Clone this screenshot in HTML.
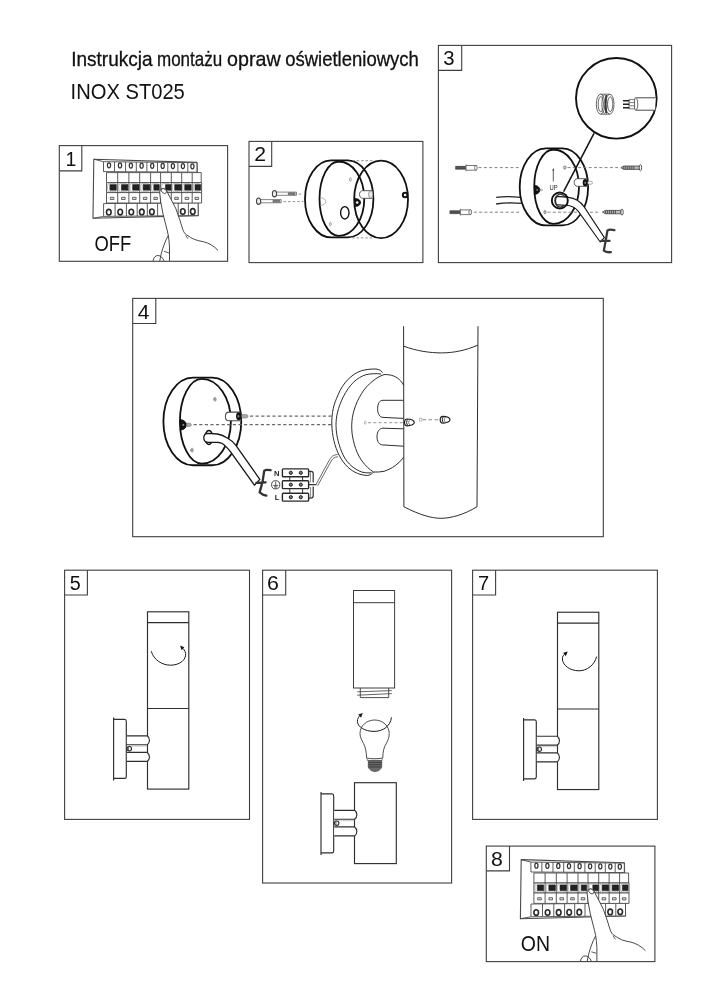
<!DOCTYPE html>
<html lang="pl"><head><meta charset="utf-8"><title>Instrukcja montażu opraw oświetleniowych INOX ST025</title>
<style>
html,body{margin:0;padding:0;background:#fff}
body{width:719px;height:1000px;overflow:hidden;font-family:"Liberation Sans", sans-serif}
svg{display:block}
svg{will-change:transform;transform:translateZ(0)}
</style></head><body>
<svg width="719" height="1000" viewBox="0 0 719 1000" font-family='"Liberation Sans", sans-serif'>
<rect width="719" height="1000" fill="#fff"/>
<g transform="translate(0 0)" stroke="#4a4a4a" stroke-width="0.9" fill="none" stroke-linejoin="round"><path d="M93.8 159.2L197 162.4L198.2 215.6L93.0 218.3Z" fill="#fff" stroke-width="1.1"/><path d="M93.8 159.2L103.5 161.7M93.0 218.3L103.6 216.4"/><path d="M103.5 161.7L196.9 162.7L196.9 172.2L103.5 171.6Z" fill="#fff"/><path d="M114.5 161.8V171.7"/><path d="M125.6 161.9V171.8"/><path d="M136.3 162.0V171.8"/><path d="M146.9 162.1V171.9"/><path d="M157.5 162.2V171.9"/><path d="M167.8 162.3V172.0"/><path d="M177.9 162.4V172.1"/><path d="M187.8 162.5V172.1"/><ellipse cx="109.0" cy="165.3" rx="1.6" ry="2.5" stroke="#333" stroke-width="1.25"/><ellipse cx="120.0" cy="165.4" rx="1.6" ry="2.5" stroke="#333" stroke-width="1.25"/><ellipse cx="130.9" cy="165.5" rx="1.6" ry="2.5" stroke="#333" stroke-width="1.25"/><ellipse cx="141.6" cy="165.7" rx="1.6" ry="2.5" stroke="#333" stroke-width="1.25"/><ellipse cx="152.2" cy="165.8" rx="1.6" ry="2.5" stroke="#333" stroke-width="1.25"/><ellipse cx="162.7" cy="165.9" rx="1.6" ry="2.5" stroke="#333" stroke-width="1.25"/><ellipse cx="172.9" cy="166.0" rx="1.6" ry="2.5" stroke="#333" stroke-width="1.25"/><ellipse cx="182.9" cy="166.1" rx="1.6" ry="2.5" stroke="#333" stroke-width="1.25"/><ellipse cx="192.4" cy="166.3" rx="1.6" ry="2.5" stroke="#333" stroke-width="1.25"/><path d="M103.6 203.6L198.1 202.8L198.1 215.5L103.6 216.4Z" fill="#fff"/><path d="M115.1 203.5V216.3"/><path d="M126.4 203.4V216.2"/><path d="M137.2 203.3V216.1"/><path d="M147.3 203.2V216.0"/><path d="M157.6 203.1V215.9"/><path d="M168.0 203.1V215.8"/><path d="M178.2 203.0V215.7"/><path d="M188.4 202.9V215.6"/><ellipse cx="108.8" cy="212.2" rx="2.3" ry="2.8" stroke="#2a2a2a" stroke-width="1.6"/><ellipse cx="120.2" cy="212.1" rx="2.3" ry="2.8" stroke="#2a2a2a" stroke-width="1.6"/><ellipse cx="131.3" cy="212.0" rx="2.3" ry="2.8" stroke="#2a2a2a" stroke-width="1.6"/><ellipse cx="141.8" cy="211.9" rx="2.3" ry="2.8" stroke="#2a2a2a" stroke-width="1.6"/><ellipse cx="151.9" cy="211.8" rx="2.3" ry="2.8" stroke="#2a2a2a" stroke-width="1.6"/><ellipse cx="172.6" cy="211.6" rx="2.3" ry="2.8" stroke="#2a2a2a" stroke-width="1.6"/><ellipse cx="182.8" cy="211.5" rx="2.3" ry="2.8" stroke="#2a2a2a" stroke-width="1.6"/><ellipse cx="192.8" cy="211.4" rx="2.3" ry="2.8" stroke="#2a2a2a" stroke-width="1.6"/><path d="M106.5 172.6H201.2V182.6H106.5Z" fill="#fff"/><path d="M106.5 182.6H201.6V192.6H106.5Z" fill="#fff"/><path d="M106.5 192.6H201.6V203H106.5Z" fill="#fff"/><path d="M117.7 172.6V203"/><path d="M128.9 172.6V203"/><path d="M139.7 172.6V203"/><path d="M150.6 172.6V203"/><path d="M160.6 172.6V203"/><path d="M171.3 172.6V203"/><path d="M181.7 172.6V203"/><path d="M192.2 172.6V203"/><rect x="107.6" y="183.6" width="9.0" height="8.0" rx="1.8" stroke="#8a8a8a" stroke-width="0.6"/><rect x="109.9" y="184.6" width="6.3" height="5.6" fill="#222" stroke="#222" stroke-width="0.6"/><rect x="118.8" y="183.6" width="9.0" height="8.0" rx="1.8" stroke="#8a8a8a" stroke-width="0.6"/><rect x="121.4" y="184.6" width="6.5" height="5.6" fill="#222" stroke="#222" stroke-width="0.6"/><rect x="130.0" y="183.6" width="8.6" height="8.0" rx="1.8" stroke="#8a8a8a" stroke-width="0.6"/><rect x="132.6" y="184.6" width="6.4" height="5.6" fill="#222" stroke="#222" stroke-width="0.6"/><rect x="140.8" y="183.6" width="8.7" height="8.0" rx="1.8" stroke="#8a8a8a" stroke-width="0.6"/><rect x="143.1" y="184.6" width="6.7" height="5.6" fill="#222" stroke="#222" stroke-width="0.6"/><rect x="151.7" y="183.6" width="7.8" height="8.0" rx="1.8" stroke="#8a8a8a" stroke-width="0.6"/><rect x="153.8" y="184.6" width="5.4" height="5.6" fill="#222" stroke="#222" stroke-width="0.6"/><rect x="161.7" y="183.6" width="8.5" height="8.0" rx="1.8" stroke="#8a8a8a" stroke-width="0.6"/><rect x="165.4" y="184.6" width="5.6" height="5.6" fill="#222" stroke="#222" stroke-width="0.6"/><rect x="172.4" y="183.6" width="8.2" height="8.0" rx="1.8" stroke="#8a8a8a" stroke-width="0.6"/><rect x="174.7" y="184.6" width="6.6" height="5.6" fill="#222" stroke="#222" stroke-width="0.6"/><rect x="182.8" y="183.6" width="8.3" height="8.0" rx="1.8" stroke="#8a8a8a" stroke-width="0.6"/><rect x="184.7" y="184.6" width="6.4" height="5.6" fill="#222" stroke="#222" stroke-width="0.6"/><rect x="193.3" y="183.6" width="7.0" height="8.0" rx="1.8" stroke="#8a8a8a" stroke-width="0.6"/><rect x="195.0" y="184.6" width="5.6" height="5.6" fill="#222" stroke="#222" stroke-width="0.6"/><rect x="110.3" y="197.3" width="3.6" height="2.2" stroke-width="0.8" fill="#ddd"/><rect x="121.5" y="197.3" width="3.6" height="2.2" stroke-width="0.8" fill="#ddd"/><rect x="132.5" y="197.3" width="3.6" height="2.2" stroke-width="0.8" fill="#ddd"/><rect x="143.3" y="197.3" width="3.6" height="2.2" stroke-width="0.8" fill="#ddd"/><rect x="153.8" y="197.3" width="3.6" height="2.2" stroke-width="0.8" fill="#ddd"/><rect x="164.1" y="197.3" width="3.6" height="2.2" stroke-width="0.8" fill="#ddd"/><rect x="174.7" y="197.3" width="3.6" height="2.2" stroke-width="0.8" fill="#ddd"/><rect x="185.1" y="197.3" width="3.6" height="2.2" stroke-width="0.8" fill="#ddd"/><rect x="195.0" y="197.3" width="3.6" height="2.2" stroke-width="0.8" fill="#ddd"/><path d="M169.5 260.9L169.5 247.1C169.3 243 168.9 239 168.2 234.9C167.5 231.5 166.8 228.6 166 225.7L162.9 213.4L160.6 201.2L159.7 192.4C159.6 190.4 160.6 189.0 162.5 188.6C164.4 188.4 165.9 189.4 166.9 191.4L171.3 199.7L175.9 208.8L179.7 219.6L182.8 229.5C183.8 232.2 184.9 233.8 186.6 234.9C189 236.6 191.6 238.2 194.3 239.4C197.3 240.6 200.4 241.1 203.4 241.7C206.2 242.4 208.7 243.4 211.1 244.8C213.8 246.4 216.1 248.2 218 250.4L218 260.9Z" fill="#fff" stroke="none"/><path d="M169.5 260.9L169.5 247.1C169.3 243 168.9 239 168.2 234.9C167.5 231.5 166.8 228.6 166 225.7L162.9 213.4L160.6 201.2L159.7 192.4C159.6 190.4 160.6 189.0 162.5 188.6C164.4 188.4 165.9 189.4 166.9 191.4L171.3 199.7L175.9 208.8L179.7 219.6L182.8 229.5C183.8 232.2 184.9 233.8 186.6 234.9C189 236.6 191.6 238.2 194.3 239.4C197.3 240.6 200.4 241.1 203.4 241.7C206.2 242.4 208.7 243.4 211.1 244.8C213.8 246.4 216.1 248.2 218 250.4" stroke="#333" stroke-width="0.9"/><ellipse cx="163.9" cy="191.0" rx="2.9" ry="2.1" transform="rotate(38 163.9 191.0)" fill="#fff" stroke="#333" stroke-width="0.8"/><path d="M185.6 235.4L188.0 238.8" stroke="#333" stroke-width="0.8"/><path d="M168.2 235.6C166.6 238.4 165.4 241.2 164.4 244C163.2 247 162.2 250.1 161.4 253.2C160.7 255.8 160.2 258.3 159.8 260.9" stroke="#333" stroke-width="0.9"/><path d="M164.0 251.4L169.0 252.9" stroke="#333" stroke-width="0.8"/><path d="M153.0 260.9C153.6 257.6 155.4 255.5 157.8 255.5C160.6 255.5 162.8 257.8 164.0 260.9" stroke="#333" stroke-width="0.9"/></g>
<g transform="translate(427.4 700.4)" stroke="#4a4a4a" stroke-width="0.9" fill="none" stroke-linejoin="round"><path d="M93.8 159.2L197 162.4L198.2 215.6L93.0 218.3Z" fill="#fff" stroke-width="1.1"/><path d="M93.8 159.2L103.5 161.7M93.0 218.3L103.6 216.4"/><path d="M103.5 161.7L196.9 162.7L196.9 172.2L103.5 171.6Z" fill="#fff"/><path d="M114.5 161.8V171.7"/><path d="M125.6 161.9V171.8"/><path d="M136.3 162.0V171.8"/><path d="M146.9 162.1V171.9"/><path d="M157.5 162.2V171.9"/><path d="M167.8 162.3V172.0"/><path d="M177.9 162.4V172.1"/><path d="M187.8 162.5V172.1"/><ellipse cx="109.0" cy="165.3" rx="1.6" ry="2.5" stroke="#333" stroke-width="1.25"/><ellipse cx="120.0" cy="165.4" rx="1.6" ry="2.5" stroke="#333" stroke-width="1.25"/><ellipse cx="130.9" cy="165.5" rx="1.6" ry="2.5" stroke="#333" stroke-width="1.25"/><ellipse cx="141.6" cy="165.7" rx="1.6" ry="2.5" stroke="#333" stroke-width="1.25"/><ellipse cx="152.2" cy="165.8" rx="1.6" ry="2.5" stroke="#333" stroke-width="1.25"/><ellipse cx="162.7" cy="165.9" rx="1.6" ry="2.5" stroke="#333" stroke-width="1.25"/><ellipse cx="172.9" cy="166.0" rx="1.6" ry="2.5" stroke="#333" stroke-width="1.25"/><ellipse cx="182.9" cy="166.1" rx="1.6" ry="2.5" stroke="#333" stroke-width="1.25"/><ellipse cx="192.4" cy="166.3" rx="1.6" ry="2.5" stroke="#333" stroke-width="1.25"/><path d="M103.6 203.6L198.1 202.8L198.1 215.5L103.6 216.4Z" fill="#fff"/><path d="M115.1 203.5V216.3"/><path d="M126.4 203.4V216.2"/><path d="M137.2 203.3V216.1"/><path d="M147.3 203.2V216.0"/><path d="M157.6 203.1V215.9"/><path d="M168.0 203.1V215.8"/><path d="M178.2 203.0V215.7"/><path d="M188.4 202.9V215.6"/><ellipse cx="108.8" cy="212.2" rx="2.3" ry="2.8" stroke="#2a2a2a" stroke-width="1.6"/><ellipse cx="120.2" cy="212.1" rx="2.3" ry="2.8" stroke="#2a2a2a" stroke-width="1.6"/><ellipse cx="131.3" cy="212.0" rx="2.3" ry="2.8" stroke="#2a2a2a" stroke-width="1.6"/><ellipse cx="141.8" cy="211.9" rx="2.3" ry="2.8" stroke="#2a2a2a" stroke-width="1.6"/><ellipse cx="151.9" cy="211.8" rx="2.3" ry="2.8" stroke="#2a2a2a" stroke-width="1.6"/><ellipse cx="172.6" cy="211.6" rx="2.3" ry="2.8" stroke="#2a2a2a" stroke-width="1.6"/><ellipse cx="182.8" cy="211.5" rx="2.3" ry="2.8" stroke="#2a2a2a" stroke-width="1.6"/><ellipse cx="192.8" cy="211.4" rx="2.3" ry="2.8" stroke="#2a2a2a" stroke-width="1.6"/><path d="M106.5 172.6H201.2V182.6H106.5Z" fill="#fff"/><path d="M106.5 182.6H201.6V192.6H106.5Z" fill="#fff"/><path d="M106.5 192.6H201.6V203H106.5Z" fill="#fff"/><path d="M117.7 172.6V203"/><path d="M128.9 172.6V203"/><path d="M139.7 172.6V203"/><path d="M150.6 172.6V203"/><path d="M160.6 172.6V203"/><path d="M171.3 172.6V203"/><path d="M181.7 172.6V203"/><path d="M192.2 172.6V203"/><rect x="107.6" y="183.6" width="9.0" height="8.0" rx="1.8" stroke="#8a8a8a" stroke-width="0.6"/><rect x="109.9" y="184.6" width="6.3" height="5.6" fill="#222" stroke="#222" stroke-width="0.6"/><rect x="118.8" y="183.6" width="9.0" height="8.0" rx="1.8" stroke="#8a8a8a" stroke-width="0.6"/><rect x="121.4" y="184.6" width="6.5" height="5.6" fill="#222" stroke="#222" stroke-width="0.6"/><rect x="130.0" y="183.6" width="8.6" height="8.0" rx="1.8" stroke="#8a8a8a" stroke-width="0.6"/><rect x="132.6" y="184.6" width="6.4" height="5.6" fill="#222" stroke="#222" stroke-width="0.6"/><rect x="140.8" y="183.6" width="8.7" height="8.0" rx="1.8" stroke="#8a8a8a" stroke-width="0.6"/><rect x="143.1" y="184.6" width="6.7" height="5.6" fill="#222" stroke="#222" stroke-width="0.6"/><rect x="151.7" y="183.6" width="7.8" height="8.0" rx="1.8" stroke="#8a8a8a" stroke-width="0.6"/><rect x="153.8" y="184.6" width="5.4" height="5.6" fill="#222" stroke="#222" stroke-width="0.6"/><rect x="161.7" y="183.6" width="8.5" height="8.0" rx="1.8" stroke="#8a8a8a" stroke-width="0.6"/><rect x="165.4" y="184.6" width="5.6" height="5.6" fill="#222" stroke="#222" stroke-width="0.6"/><rect x="172.4" y="183.6" width="8.2" height="8.0" rx="1.8" stroke="#8a8a8a" stroke-width="0.6"/><rect x="174.7" y="184.6" width="6.6" height="5.6" fill="#222" stroke="#222" stroke-width="0.6"/><rect x="182.8" y="183.6" width="8.3" height="8.0" rx="1.8" stroke="#8a8a8a" stroke-width="0.6"/><rect x="184.7" y="184.6" width="6.4" height="5.6" fill="#222" stroke="#222" stroke-width="0.6"/><rect x="193.3" y="183.6" width="7.0" height="8.0" rx="1.8" stroke="#8a8a8a" stroke-width="0.6"/><rect x="195.0" y="184.6" width="5.6" height="5.6" fill="#222" stroke="#222" stroke-width="0.6"/><rect x="110.3" y="197.3" width="3.6" height="2.2" stroke-width="0.8" fill="#ddd"/><rect x="121.5" y="197.3" width="3.6" height="2.2" stroke-width="0.8" fill="#ddd"/><rect x="132.5" y="197.3" width="3.6" height="2.2" stroke-width="0.8" fill="#ddd"/><rect x="143.3" y="197.3" width="3.6" height="2.2" stroke-width="0.8" fill="#ddd"/><rect x="153.8" y="197.3" width="3.6" height="2.2" stroke-width="0.8" fill="#ddd"/><rect x="164.1" y="197.3" width="3.6" height="2.2" stroke-width="0.8" fill="#ddd"/><rect x="174.7" y="197.3" width="3.6" height="2.2" stroke-width="0.8" fill="#ddd"/><rect x="185.1" y="197.3" width="3.6" height="2.2" stroke-width="0.8" fill="#ddd"/><rect x="195.0" y="197.3" width="3.6" height="2.2" stroke-width="0.8" fill="#ddd"/><path d="M169.5 260.9L169.5 247.1C169.3 243 168.9 239 168.2 234.9C167.5 231.5 166.8 228.6 166 225.7L162.9 213.4L160.6 201.2L159.7 192.4C159.6 190.4 160.6 189.0 162.5 188.6C164.4 188.4 165.9 189.4 166.9 191.4L171.3 199.7L175.9 208.8L179.7 219.6L182.8 229.5C183.8 232.2 184.9 233.8 186.6 234.9C189 236.6 191.6 238.2 194.3 239.4C197.3 240.6 200.4 241.1 203.4 241.7C206.2 242.4 208.7 243.4 211.1 244.8C213.8 246.4 216.1 248.2 218 250.4L218 260.9Z" fill="#fff" stroke="none"/><path d="M169.5 260.9L169.5 247.1C169.3 243 168.9 239 168.2 234.9C167.5 231.5 166.8 228.6 166 225.7L162.9 213.4L160.6 201.2L159.7 192.4C159.6 190.4 160.6 189.0 162.5 188.6C164.4 188.4 165.9 189.4 166.9 191.4L171.3 199.7L175.9 208.8L179.7 219.6L182.8 229.5C183.8 232.2 184.9 233.8 186.6 234.9C189 236.6 191.6 238.2 194.3 239.4C197.3 240.6 200.4 241.1 203.4 241.7C206.2 242.4 208.7 243.4 211.1 244.8C213.8 246.4 216.1 248.2 218 250.4" stroke="#333" stroke-width="0.9"/><ellipse cx="163.9" cy="191.0" rx="2.9" ry="2.1" transform="rotate(38 163.9 191.0)" fill="#fff" stroke="#333" stroke-width="0.8"/><path d="M185.6 235.4L188.0 238.8" stroke="#333" stroke-width="0.8"/><path d="M168.2 235.6C166.6 238.4 165.4 241.2 164.4 244C163.2 247 162.2 250.1 161.4 253.2C160.7 255.8 160.2 258.3 159.8 260.9" stroke="#333" stroke-width="0.9"/><path d="M164.0 251.4L169.0 252.9" stroke="#333" stroke-width="0.8"/><path d="M153.0 260.9C153.6 257.6 155.4 255.5 157.8 255.5C160.6 255.5 162.8 257.8 164.0 260.9" stroke="#333" stroke-width="0.9"/></g>
<g transform="" fill="none" stroke="#111" stroke-width="1.8"><path d="M331.1 160.4A26.1 38.5 0 0 0 331.1 237.4L347.8 237.4A25.6 38.5 0 0 0 347.8 160.4Z" fill="#fff"/><path d="M338.8 161.5A19.3 37.2 0 0 0 338.8 235.9A25.5 37.2 0 0 0 338.8 161.5Z"/><ellipse cx="350.4" cy="179.5" rx="0.9" ry="1.7" stroke="#666" stroke-width="0.6"/><ellipse cx="330.3" cy="224.1" rx="0.9" ry="1.7" stroke="#666" stroke-width="0.6"/><ellipse cx="344.8" cy="212.8" rx="4.2" ry="6.2" stroke-width="1.4"/><path d="M320.2 197.6C323.6 197.6 325.6 199.6 325.6 201.6C325.6 203.6 323.6 205.6 320.4 205.6" stroke="#999" stroke-width="0.7"/><path d="M372.4 190.7H362.6C360.6 190.7 359.5 192.6 359.5 194.5C359.5 196.4 360.6 198.3 362.6 198.3H372.6" fill="#fff" stroke="#4a4a4a" stroke-width="0.9"/></g>
<ellipse cx="370.7" cy="194.5" rx="2.1" ry="3.6" fill="#e8e8e8" stroke="#777" stroke-width="0.7"/>
<path d="M352.3 160.7H373M352 237.9H373" stroke="#888" stroke-width="0.9" stroke-dasharray="2.6 1.8" fill="none"/>
<ellipse cx="381.1" cy="199.4" rx="26.9" ry="38.7" fill="none" stroke="#111" stroke-width="1.8"/>
<path d="M355.0 198.6C358.6 198.6 360.6 200.4 360.6 202.5C360.6 204.6 358.6 206.5 355.2 206.5Z" fill="#111" stroke="#111" stroke-width="0.8"/>
<circle cx="357.2" cy="202.5" r="1.25" fill="#fff"/>
<circle cx="405.1" cy="195.1" r="2.25" fill="#fff" stroke="#111" stroke-width="2.0"/>
<g fill="none" stroke="#666" stroke-width="0.8"><path d="M275.5 192.1H296.5V195.29999999999998H275.5" fill="#fff"/><ellipse cx="274.5" cy="193.7" rx="2.1" ry="3.2" fill="#eee" stroke="#444" stroke-width="1.1"/><rect x="287.9" y="192.2" width="7.6" height="3" fill="#777" stroke="none"/></g>
<g fill="none" stroke="#666" stroke-width="0.8"><path d="M259.59999999999997 199.6H281.2V202.79999999999998H259.59999999999997" fill="#fff"/><ellipse cx="258.59999999999997" cy="201.2" rx="2.1" ry="3.2" fill="#eee" stroke="#444" stroke-width="1.1"/><rect x="272.59999999999997" y="199.7" width="7.6" height="3" fill="#777" stroke="none"/></g>
<path d="M298.6 194.1H302.6M283.4 201.6H303.4" stroke="#777" stroke-width="0.8" stroke-dasharray="2.6 2" fill="none"/>
<path d="M496.2 197.3C504 196.3 512 196.4 520.4 197.3M496.2 204.0C504 202.8 512 202.7 521.4 203.3" stroke="#222" stroke-width="1.3" fill="none"/>
<path d="M478.6 167.6H521" stroke="#777" stroke-width="0.9" stroke-dasharray="3 2.3" fill="none"/>
<path d="M473.8 212.2H520.5" stroke="#777" stroke-width="0.9" stroke-dasharray="3 2.3" fill="none"/>
<g transform="translate(214.7 -12.0)" fill="none" stroke="#111" stroke-width="1.8"><path d="M331.1 160.4A26.1 38.5 0 0 0 331.1 237.4L347.8 237.4A25.6 38.5 0 0 0 347.8 160.4Z" fill="#fff"/><path d="M338.8 161.5A19.3 37.2 0 0 0 338.8 235.9A25.5 37.2 0 0 0 338.8 161.5Z"/><ellipse cx="350.4" cy="179.5" rx="0.9" ry="1.7" stroke="#666" stroke-width="0.6"/><ellipse cx="330.3" cy="224.1" rx="0.9" ry="1.7" stroke="#666" stroke-width="0.6"/><path d="M319.8 197.2C323.2 197.6 325.2 199.6 325.2 201.9C325.2 204.2 323.2 206.1 320.0 206.5Z" fill="#111" stroke="#111" stroke-width="0.8"/><circle cx="322.5" cy="201.9" r="0.9" fill="#888" stroke="none"/><ellipse cx="326.6" cy="201.9" rx="1.1" ry="0.9" stroke="#777" stroke-width="0.6"/><path d="M372.4 190.7H362.6C360.6 190.7 359.5 192.6 359.5 194.5C359.5 196.4 360.6 198.3 362.6 198.3H372.6" fill="#fff" stroke="#4a4a4a" stroke-width="0.9"/></g>
<path d="M567.5 167.6H618" stroke="#777" stroke-width="0.9" stroke-dasharray="3 2.3" fill="none"/>
<path d="M547.5 212.2H600.5" stroke="#777" stroke-width="0.9" stroke-dasharray="3 2.3" fill="none"/>
<ellipse cx="564.4" cy="167.6" rx="1.2" ry="1.5" fill="none" stroke="#777" stroke-width="0.6"/>
<ellipse cx="544.9" cy="212.2" rx="1.0" ry="1.6" fill="none" stroke="#777" stroke-width="0.6"/>
<path d="M553.3 169.6V181.4" stroke="#333" stroke-width="0.8" fill="none"/>
<path d="M553.3 168.2L554.3 170.6H552.3Z" fill="#333"/>
<text x="553.5" y="190.2" font-size="7.6" text-anchor="middle" fill="#222" textLength="8.2" lengthAdjust="spacingAndGlyphs">UP</text>
<ellipse cx="585.3" cy="182.7" rx="2.6" ry="3.6" fill="#111"/>
<ellipse cx="585.2" cy="182.7" rx="0.9" ry="1.2" fill="#777"/>
<rect x="587.8" y="181.3" width="4.6" height="2.9" rx="1.3" fill="#fff" stroke="#888" stroke-width="0.7"/>
<path d="M594.0 133.3L563.6 191.6" stroke="#111" stroke-width="1.5" fill="none"/>
<circle cx="616.3" cy="98.3" r="40.3" fill="none" stroke="#111" stroke-width="1.9"/>
<g fill="none" stroke="#444" stroke-width="0.8"><path d="M600.6 94.2H609.6M600.6 114.2H609.6"/><ellipse cx="600.6" cy="104.2" rx="4.3" ry="10"/><ellipse cx="600.8" cy="104.2" rx="2.6" ry="7.6"/><ellipse cx="604.4" cy="104.2" rx="2.6" ry="9.2" stroke-width="0.7"/><ellipse cx="609.8" cy="104.2" rx="4.2" ry="10"/><ellipse cx="610.2" cy="104.2" rx="2.6" ry="7.4"/><path d="M606.6 95.0C605.2 98 605.2 110.4 606.6 113.4" stroke-width="1.6" stroke="#333"/></g>
<path d="M655.6 97.8H635.6C633.6 97.8 633.6 110.2 635.6 110.2H655.2" fill="#fff" stroke="#333" stroke-width="0.9"/>
<path d="M636.6 98.4C638.2 101 638.2 107 636.6 109.8" fill="none" stroke="#444" stroke-width="0.8"/>
<path d="M629 99.6H634.6V108.8H629Z" fill="#fff" stroke="#444" stroke-width="0.7"/>
<path d="M629 102.6H634.6M629 105.8H634.6" stroke="#444" stroke-width="0.7"/>
<path d="M623 100.7H629.4M623 104.2H629.4M623 107.7H629.4" stroke="#222" stroke-width="1.5" fill="none"/>
<circle cx="559.8" cy="200.5" r="8.0" fill="#fff" stroke="#111" stroke-width="1.9"/>
<ellipse cx="560.2" cy="200.6" rx="5.4" ry="6.4" fill="none" stroke="#222" stroke-width="1.1"/>
<path d="M558.2 196.4C556.4 196.4 555.6 198.6 555.6 200.7C555.6 202.8 556.4 204.9 558.2 204.9L566 205.3C572 205.6 575 207 578.4 211.4L600.2 242.0L604.4 237.6L584.0 206.6C580 201 575 198.2 568.4 197.4Z" fill="#fff" stroke="#1c1c1c" stroke-width="1.1" stroke-linejoin="round"/>
<path d="M565.6 194.9A8 8 0 0 1 567.8 200.5A8 8 0 0 1 566.0 205.6" fill="none" stroke="#111" stroke-width="1.9"/>
<path d="M614.4 230.2C611 229.4 608.6 229.6 607.4 230.6L605.8 240.2L603.8 250.6C605.6 252 608.2 252.4 610.8 252.2M601.4 240.8H609.6" fill="none" stroke="#3a3a3a" stroke-width="2.3" stroke-linecap="round" stroke-linejoin="round"/>
<rect x="455.3" y="165.9" width="11.4" height="3.8" fill="#666"/><path d="M455.3 166.9H466.3M455.3 168.4H466.3" stroke="#333" stroke-width="0.6"/><path d="M465.90000000000003 165.5H476.5V170.20000000000002H465.90000000000003" fill="#fff" stroke="#555" stroke-width="0.8"/><path d="M466.1 164.5V171.10000000000002" stroke="#555" stroke-width="0.8"/><ellipse cx="475.90000000000003" cy="167.8" rx="1.3" ry="2.5" fill="#fff" stroke="#555" stroke-width="0.8"/>
<rect x="449.6" y="210.29999999999998" width="11.4" height="3.8" fill="#666"/><path d="M449.6 211.29999999999998H460.6M449.6 212.79999999999998H460.6" stroke="#333" stroke-width="0.6"/><path d="M460.20000000000005 209.89999999999998H470.8V214.6H460.20000000000005" fill="#fff" stroke="#555" stroke-width="0.8"/><path d="M460.40000000000003 208.89999999999998V215.5" stroke="#555" stroke-width="0.8"/><ellipse cx="470.20000000000005" cy="212.2" rx="1.3" ry="2.5" fill="#fff" stroke="#555" stroke-width="0.8"/>
<path d="M620.8 167.7L623.8 166.0H639.3999999999999V169.39999999999998H623.8Z" fill="#bbb" stroke="#444" stroke-width="0.8"/><path d="M623.8 166.1V169.29999999999998M625.8 166.1V169.29999999999998M627.8 166.1V169.29999999999998M629.8 166.1V169.29999999999998M631.8 166.1V169.29999999999998M633.8 166.1V169.29999999999998" stroke="#333" stroke-width="0.8"/><ellipse cx="640.3999999999999" cy="167.7" rx="1.2" ry="3.1" fill="#fff" stroke="#444" stroke-width="0.9"/>
<path d="M602.4 212.1L605.4 210.4H620.9999999999999V213.79999999999998H605.4Z" fill="#bbb" stroke="#444" stroke-width="0.8"/><path d="M605.4 210.5V213.7M607.4 210.5V213.7M609.4 210.5V213.7M611.4 210.5V213.7M613.4 210.5V213.7M615.4 210.5V213.7" stroke="#333" stroke-width="0.8"/><ellipse cx="621.9999999999999" cy="212.1" rx="1.2" ry="3.1" fill="#fff" stroke="#444" stroke-width="0.9"/>
<g transform="translate(-183.69 195.12) scale(1.138)" fill="none" stroke="#111" stroke-width="1.6"><path d="M331.1 160.4A26.1 38.5 0 0 0 331.1 237.4L347.8 237.4A25.6 38.5 0 0 0 347.8 160.4Z" fill="#fff"/><path d="M338.8 161.5A19.3 37.2 0 0 0 338.8 235.9A25.5 37.2 0 0 0 338.8 161.5Z"/><ellipse cx="350.4" cy="179.5" rx="0.9" ry="1.7" stroke="#666" stroke-width="0.6"/><ellipse cx="330.3" cy="224.1" rx="0.9" ry="1.7" stroke="#666" stroke-width="0.6"/><path d="M319.8 197.2C323.2 197.6 325.2 199.6 325.2 201.9C325.2 204.2 323.2 206.1 320.0 206.5Z" fill="#111" stroke="#111" stroke-width="0.8"/><circle cx="322.5" cy="201.9" r="0.9" fill="#888" stroke="none"/><ellipse cx="326.6" cy="201.9" rx="1.1" ry="0.9" stroke="#777" stroke-width="0.6"/><path d="M372.4 190.7H362.6C360.6 190.7 359.5 192.6 359.5 194.5C359.5 196.4 360.6 198.3 362.6 198.3H372.6" fill="#fff" stroke="#4a4a4a" stroke-width="0.9"/></g>
<circle cx="214.7" cy="399.1" r="1.5" fill="#999"/><circle cx="191.6" cy="450.3" r="1.5" fill="#999"/>
<ellipse cx="238.8" cy="416.2" rx="2.7" ry="3.9" fill="#111"/>
<ellipse cx="238.4" cy="416.3" rx="1.0" ry="1.4" fill="#777"/>
<path d="M241.8 414.6H246C247.4 414.6 248 415.4 248 416.3C248 417.2 247.4 418 246 418H241.8Z" fill="#aaa" stroke="#777" stroke-width="0.6"/>
<path d="M186.6 423.2H189.6C190.8 423.2 191.4 424 191.4 424.8C191.4 425.6 190.8 426.4 189.6 426.4H186.6Z" fill="#aaa" stroke="#777" stroke-width="0.6"/>
<path d="M250 416.1H331.6" stroke="#6a6a6a" stroke-width="1.2" stroke-dasharray="3.2 2.4" fill="none"/>
<path d="M193.6 424.6H331.4" stroke="#6a6a6a" stroke-width="1.2" stroke-dasharray="3.2 2.4" fill="none"/>
<ellipse cx="208.9" cy="437.5" rx="3.9" ry="7.0" fill="#fff" stroke="#111" stroke-width="1.4"/>
<path d="M207.8 433.3C205.2 433.3 203.8 435.4 203.8 437.8C203.8 440.2 205.2 442.3 207.8 442.3L217.6 442.3C221 442.4 223.2 443.6 224.8 445.4C227 447.6 229 449.8 230.8 452.2L254.4 485.2L259.8 479.4L235.7 445.1C233.4 442.2 230.6 439.8 227.3 438.0C224.4 436.0 221.2 434.6 217.6 434.0Z" fill="#fff" stroke="#151515" stroke-width="1.3" stroke-linejoin="round"/>
<path d="M270.6 470.2C267.4 469.6 265.2 469.8 264.2 470.8L262.6 481.6L259.6 492.4C261.6 494.2 263.8 495.2 266.4 495.6M256.4 482.8L265.6 482.4" fill="none" stroke="#333" stroke-width="2.3" stroke-linecap="round" stroke-linejoin="round"/>
<path d="M289.8 476H302.6M289.8 480.8V476M302.6 480.8V476M289.8 488.8V493.2M302.6 488.8V493.2" stroke="#333" stroke-width="1" fill="none"/>
<rect x="282.4" y="468.9" width="26.2" height="7.8" rx="0.8" stroke="#2a2a2a" stroke-width="1.4" fill="#fff"/>
<circle cx="290.8" cy="472.8" r="1.6" fill="#777" stroke="#222" stroke-width="1.0"/>
<circle cx="300.8" cy="472.8" r="1.6" fill="#777" stroke="#222" stroke-width="1.0"/>
<rect x="282.4" y="480.8" width="26.2" height="7.8" rx="0.8" stroke="#2a2a2a" stroke-width="1.4" fill="#fff"/>
<circle cx="290.8" cy="484.7" r="1.6" fill="#777" stroke="#222" stroke-width="1.0"/>
<circle cx="300.8" cy="484.7" r="1.6" fill="#777" stroke="#222" stroke-width="1.0"/>
<rect x="282.4" y="493.3" width="26.2" height="7.8" rx="0.8" stroke="#2a2a2a" stroke-width="1.4" fill="#fff"/>
<circle cx="290.8" cy="497.2" r="1.6" fill="#777" stroke="#222" stroke-width="1.0"/>
<circle cx="300.8" cy="497.2" r="1.6" fill="#777" stroke="#222" stroke-width="1.0"/>
<path d="M308.8 471.4H311.2C312.6 471.4 313.2 472.2 313.2 473.6V482.6M308.8 498.2H310.8C312.4 498.2 313.2 497.2 313.2 495.8V486.6M308.8 484.7H316.4" fill="none" stroke="#333" stroke-width="1.2"/>
<path d="M310.4 471.8V482.4M310.6 487V497.6" stroke="#555" stroke-width="0.7" fill="none"/>
<text x="276.7" y="475.5" font-size="7.6" font-weight="bold" text-anchor="middle" fill="#222">N</text>
<text x="277.1" y="499.9" font-size="7.6" font-weight="bold" text-anchor="middle" fill="#222">L</text>
<circle cx="275.7" cy="484.8" r="4.1" fill="none" stroke="#333" stroke-width="0.9"/>
<path d="M275.7 481.8V485.4M273.2 485.4H278.2M274.0 486.8H277.4M274.9 488H276.5" stroke="#333" stroke-width="0.8" fill="none"/>
<path d="M316.2 484.2L329.6 459.6C331.4 456.4 333.6 454.8 337.6 454.4M317.6 485.8L331.2 461C332.8 458.2 334.6 457 338 456.8" fill="none" stroke="#444" stroke-width="0.8"/>
<path d="M382.6 372.6C380.6 369.6 377.6 368.8 372.9 369.0C368.8 369.2 365.2 369.6 361.7 370.6C356.4 372.4 351.8 375.6 347.8 379.6C343.6 384 340.4 389.2 338.1 394.8C336 399.4 334.2 404 333.2 408.7C332.2 413.6 331.7 418.8 331.8 424C331.9 429.6 332.6 435.2 333.9 440.7C335.2 446 337 451.2 339.5 456C341.8 460.2 344.5 464 347.8 467.1C350.7 469.8 353.9 471.9 357.5 473.4C360.6 474.6 363.9 475.3 367.3 475.5C369.8 475.2 372 474 373.6 472" stroke="#222" stroke-width="0.95" fill="none"/><path d="M381.2 374.0C376 373.4 370.8 373.6 365.9 374.7C361.2 376.2 357 378.8 353.4 382.3C349.4 386.4 346.2 391.2 343.6 396.2C340.9 401.5 338.7 407.1 337.4 412.9C336.4 417 336 421.2 336 425.4C336.1 430.6 336.8 435.7 338.1 440.7C339.4 446.1 341.2 451.2 343.6 456C345.8 460 348.6 463.5 352 466.4C354.9 468.8 358.2 470.7 361.7 472C364.9 472.9 368.2 473.1 371.5 472.7" stroke="#222" stroke-width="0.95" fill="none"/>
<path d="M403.6 385.2C402.8 383.6 401.8 382.2 400.7 380.9C398.7 378.8 396.4 377.1 393.7 376C390.6 374.9 387.3 374.4 384 374.6C380 376 376.2 378.2 372.9 380.9C368.4 384.4 364.6 388.6 361.7 393.4C358.4 398.6 355.8 404.2 354.1 410.1C352.6 415 351.8 420.2 351.7 425.4C351.6 430.6 352.2 435.7 353.4 440.7C354.6 446.1 356.4 451.2 358.9 456C361.1 460.1 363.9 463.9 367.3 467.1C369.2 468.9 371.3 470.6 373.5 472C377 472.2 380.6 472 384 471.3C388 470 391.8 468.2 395.1 465.7C398.4 463.4 401.2 460.6 403.6 457.4" stroke="#222" stroke-width="0.95" fill="none" fill="#fff"/>
<path d="M403.6 400.3H383C379.6 400.3 377.6 403.6 377.6 408.8C377.6 413.8 379.6 417.2 383 417.4L403.6 418.4" stroke="#222" stroke-width="0.95" fill="none"/>
<path d="M403.6 428.8L383 428.2C379.4 428.2 377 431.6 377 436.6C377 441.4 379 444.6 382.4 444.9L403.6 446.2" stroke="#222" stroke-width="0.95" fill="none"/>
<path d="M368 422.7H403.4" stroke="#888" stroke-width="0.9" stroke-dasharray="3 2.3" fill="none"/>
<ellipse cx="365.3" cy="422.7" rx="0.9" ry="1.5" fill="none" stroke="#888" stroke-width="0.6"/>
<path d="M403.6 326.2L403.9 506.8C420 515 431.6 518.3 441 518.3C451 518.3 464 514.6 477.0 506.8L478.0 326.2" stroke="#222" stroke-width="0.95" fill="none" stroke-width="1.0"/>
<path d="M403.7 346.2C417 351 429.4 352.9 441.6 352.9C453.6 352.9 465.6 350.4 477.8 345.2" stroke="#222" stroke-width="0.95" fill="none"/>
<path d="M407.3 419.0C411.3 419.0 414.3 420.6 414.3 422.4C414.3 424.2 411.3 425.8 407.3 425.8C404.9 425.8 404.5 424.0 404.5 422.4C404.5 420.8 404.9 419.0 407.3 419.0Z" fill="#fff" stroke="#1c1c1c" stroke-width="1.2"/><path d="M407.7 419.4C406.3 421.0 406.3 423.8 407.7 425.4" fill="none" stroke="#1c1c1c" stroke-width="1.0"/><path d="M409.9 419.6C408.3 421.2 408.3 423.6 409.9 425.2" fill="none" stroke="#444" stroke-width="0.7"/>
<path d="M443.0 416.3C447.0 416.3 450.0 417.9 450.0 419.7C450.0 421.5 447.0 423.1 443.0 423.1C440.6 423.1 440.2 421.3 440.2 419.7C440.2 418.1 440.6 416.3 443.0 416.3Z" fill="#fff" stroke="#1c1c1c" stroke-width="1.2"/><path d="M443.4 416.7C442.0 418.3 442.0 421.1 443.4 422.7" fill="none" stroke="#1c1c1c" stroke-width="1.0"/><path d="M445.6 416.9C444.0 418.5 444.0 420.9 445.6 422.5" fill="none" stroke="#444" stroke-width="0.7"/>
<rect x="419.4" y="418.2" width="2.6" height="2.8" fill="none" stroke="#999" stroke-width="0.6"/>
<path d="M422.6 419.7H438.5" stroke="#888" stroke-width="1.1" stroke-dasharray="3.4 2.6" fill="none"/>
<text y="65.6" font-size="19.8" fill="#111" stroke="#111" stroke-width="0.3" lengthAdjust="spacingAndGlyphs"><tspan x="71.2" textLength="81.4" lengthAdjust="spacingAndGlyphs">Instrukcja</tspan> <tspan x="157.0" textLength="65.2" lengthAdjust="spacingAndGlyphs">montażu</tspan> <tspan x="227.0" textLength="53.6" lengthAdjust="spacingAndGlyphs">opraw</tspan> <tspan x="285.2" textLength="133.6" lengthAdjust="spacingAndGlyphs">oświetleniowych</tspan></text>
<text x="70.6" y="99.3" font-size="22.1" textLength="114.2" lengthAdjust="spacingAndGlyphs" fill="#111">INOX ST025</text>
<rect x="59.3" y="145.6" width="168.3" height="115.7" stroke="#3f3f3f" stroke-width="1.1" fill="none"/>
<path d="M81.8 145.6V170.9H59.3" stroke="#3f3f3f" stroke-width="1.1" fill="none"/>
<text x="71.0" y="165.7" font-size="19.5" text-anchor="middle" fill="#111">1</text>
<rect x="249.0" y="141.4" width="173.9" height="121.2" stroke="#3f3f3f" stroke-width="1.1" fill="none"/>
<path d="M271.7 141.4V166.4H249.0" stroke="#3f3f3f" stroke-width="1.1" fill="none"/>
<text x="254.30" y="161.2" font-size="19.5" textLength="11.8" lengthAdjust="spacingAndGlyphs" fill="#111">2</text>
<rect x="438.4" y="45.4" width="233.2" height="217.2" stroke="#3f3f3f" stroke-width="1.1" fill="none"/>
<path d="M461.7 45.4V70.4H438.4" stroke="#3f3f3f" stroke-width="1.1" fill="none"/>
<text x="443.35" y="64.9" font-size="19.5" textLength="11.3" lengthAdjust="spacingAndGlyphs" fill="#111">3</text>
<rect x="132.7" y="298.4" width="470.6" height="238.3" stroke="#3f3f3f" stroke-width="1.1" fill="none"/>
<path d="M155.8 298.4V323.5H132.7" stroke="#3f3f3f" stroke-width="1.1" fill="none"/>
<text x="137.75" y="318.8" font-size="19.5" textLength="11.7" lengthAdjust="spacingAndGlyphs" fill="#111">4</text>
<rect x="64.6" y="570.2" width="184.9" height="249.2" stroke="#3f3f3f" stroke-width="1.1" fill="none"/>
<path d="M87.4 570.2V595.0H64.6" stroke="#3f3f3f" stroke-width="1.1" fill="none"/>
<text x="69.80" y="590.0" font-size="19.5" textLength="11.0" lengthAdjust="spacingAndGlyphs" fill="#111">5</text>
<rect x="262.6" y="570.2" width="189.0" height="312.8" stroke="#3f3f3f" stroke-width="1.1" fill="none"/>
<path d="M285.7 570.2V595.0H262.6" stroke="#3f3f3f" stroke-width="1.1" fill="none"/>
<text x="267.05" y="590.0" font-size="19.5" textLength="11.9" lengthAdjust="spacingAndGlyphs" fill="#111">6</text>
<rect x="472.6" y="570.2" width="184.8" height="249.2" stroke="#3f3f3f" stroke-width="1.1" fill="none"/>
<path d="M495.6 570.2V595.0H472.6" stroke="#3f3f3f" stroke-width="1.1" fill="none"/>
<text x="478.00" y="590.0" font-size="19.5" textLength="11.2" lengthAdjust="spacingAndGlyphs" fill="#111">7</text>
<rect x="486.3" y="846.1" width="168.6" height="115.5" stroke="#3f3f3f" stroke-width="1.1" fill="none"/>
<path d="M509.5 846.1V870.9H486.3" stroke="#3f3f3f" stroke-width="1.1" fill="none"/>
<text x="491.10" y="865.9" font-size="19.5" textLength="11.8" lengthAdjust="spacingAndGlyphs" fill="#111">8</text>
<text x="94.4" y="251.2" font-size="21.2" textLength="36.8" lengthAdjust="spacingAndGlyphs" fill="#111">OFF</text>
<text x="520.8" y="951.2" font-size="21.2" textLength="29.2" lengthAdjust="spacingAndGlyphs" fill="#111">ON</text>
<g transform="translate(0 0)" stroke="#2e2e2e" stroke-width="1.15" fill="none"><rect x="147.5" y="611.8" width="41.3" height="177.3"/><path d="M147.5 622.6H188.8M147.5 708.5H188.8"/></g>
<g transform="translate(0 0)" stroke="#2e2e2e" stroke-width="1.15" fill="none"><path d="M113.6 717.6V780.6"/><path d="M113.6 719.4H124.6Q126.3 719.4 126.3 721.4V776.4Q126.3 778.4 124.6 778.4H113.6"/><path d="M126.9 735.8H147.2C150.2 737.8 150.2 742.7 147.2 744.7H126.9M126.9 752.4H147.2C150.2 754.4 150.2 759.4 147.2 761.4H126.9" fill="#fff"/><path d="M126.3 746.2H147.2" stroke-width="0.5" stroke="#999"/><circle cx="129.3" cy="748.7" r="2.2" stroke-width="1.1"/><path d="M128.6 747.2V750.2" stroke-width="0.7"/></g>
<g transform="translate(410 0.45)" stroke="#2e2e2e" stroke-width="1.15" fill="none"><rect x="147.5" y="611.8" width="41.3" height="177.3"/><path d="M147.5 622.6H188.8M147.5 708.5H188.8"/></g>
<g transform="translate(410 0.45)" stroke="#2e2e2e" stroke-width="1.15" fill="none"><path d="M113.6 717.6V780.6"/><path d="M113.6 719.4H124.6Q126.3 719.4 126.3 721.4V776.4Q126.3 778.4 124.6 778.4H113.6"/><path d="M126.9 735.8H147.2C150.2 737.8 150.2 742.7 147.2 744.7H126.9M126.9 752.4H147.2C150.2 754.4 150.2 759.4 147.2 761.4H126.9" fill="#fff"/><path d="M126.3 746.2H147.2" stroke-width="0.5" stroke="#999"/><circle cx="129.3" cy="748.7" r="2.2" stroke-width="1.1"/><path d="M128.6 747.2V750.2" stroke-width="0.7"/></g>
<path d="M151.2 651.2C154 660 162 665.2 170.5 665.2C180 665.2 186.4 659.5 185.6 653.5C185.2 650.8 183.6 648.8 182 647.6" stroke="#1a1a1a" stroke-width="1" fill="none"/>
<path d="M180.0 645.6L184.4 647.2L181.6 650.2Z" fill="#1a1a1a"/>
<path d="M596.6 656.6C594.6 665.0 587 670.8 579 670.8C569.6 670.8 562.6 665.0 562.4 659.0C562.3 656.4 563.6 654.8 565.2 653.6" stroke="#1a1a1a" stroke-width="1" fill="none"/>
<path d="M567.8 651.6L563.2 652.8L565.8 656.2Z" fill="#1a1a1a"/>
<g stroke="#3c3c3c" stroke-width="1.0" fill="none"><rect x="353.5" y="590.5" width="41.1" height="97.5"/><path d="M353.5 602.7H394.6"/><path d="M360.3 688V697.6H388.7V688" stroke-width="0.9"/><path d="M357.2 691.8L391.8 690.6M357.2 695.2L391.8 693.6" stroke-width="0.8"/></g>
<g stroke="#2e2e2e" stroke-width="1.15" fill="none"><rect x="354.5" y="782.7" width="41.8" height="80.9"/></g>
<g transform="translate(207.4 74.5)" stroke="#2e2e2e" stroke-width="1.15" fill="none"><path d="M113.6 717.6V780.6"/><path d="M113.6 719.4H124.6Q126.3 719.4 126.3 721.4V776.4Q126.3 778.4 124.6 778.4H113.6"/><path d="M126.9 735.8H147.2C150.2 737.8 150.2 742.7 147.2 744.7H126.9M126.9 752.4H147.2C150.2 754.4 150.2 759.4 147.2 761.4H126.9" fill="#fff"/><path d="M126.3 746.2H147.2" stroke-width="0.5" stroke="#999"/><circle cx="129.3" cy="748.7" r="2.2" stroke-width="1.1"/><path d="M128.6 747.2V750.2" stroke-width="0.7"/></g>
<g stroke="#444" stroke-width="0.95" fill="none"><path d="M366.5 758.0C366.5 752 365.6 747.6 363.6 743.6C361.6 739.8 360.0 737.2 360.0 733.6C360.0 726 366.4 720.0 374.6 720.0C382.8 720.0 389.2 726 389.2 733.6C389.2 737.2 388.2 740 386.4 743.2C384 747.2 382.8 751.4 382.8 758.0"/><path d="M366.5 758.0C371 759.0 378.4 759.0 382.8 758.0"/></g>
<path d="M368.3 760.6H381.7V766.6C381.7 768.4 378.8 771.6 375 771.6C371.2 771.6 368.3 768.4 368.3 766.6Z" fill="#6a6a6a" stroke="#444" stroke-width="0.7"/>
<path d="M368.3 762.6H381.7M368.3 764.8H381.7M368.6 767H381.4" stroke="#333" stroke-width="0.8" fill="none"/>
<path d="M367.2 758.4V760.4H382.2V758.4" stroke="#555" stroke-width="0.7" fill="none"/>
<path d="M391.4 717.4C390.6 726 383 731.4 374 731.4C365 731.4 357.6 727 357.4 721.4C357.3 718.6 358.8 716.6 360.4 715.2" stroke="#1a1a1a" stroke-width="1" fill="none"/>
<path d="M362.8 713.0L358.2 714.6L361.0 717.8Z" fill="#1a1a1a"/>
</svg>
</body></html>
